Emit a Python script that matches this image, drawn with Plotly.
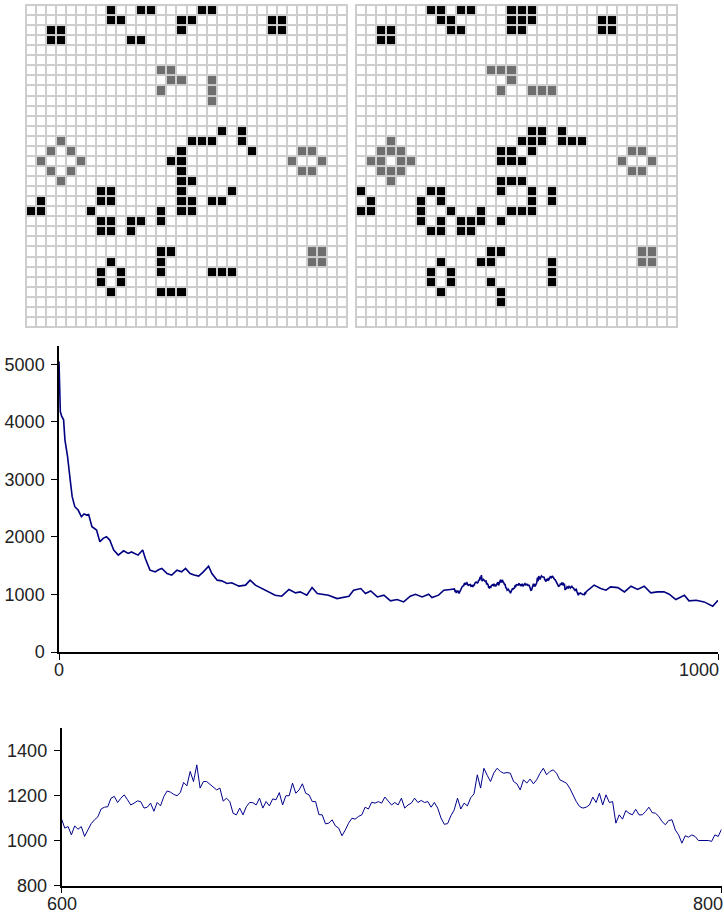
import plotly.graph_objects as go

W, H = 724, 915          # reference pixel frame used for all positions below
FIG_H = 925              # figure drawn slightly taller: the photo comes out ~1% squeezed vertically
N = 32

# ---------------- Board data: (row, col) ----------------
left_black = [
    (0, 8), (0, 11), (0, 12), (0, 17), (0, 18),
    (1, 8), (1, 9), (1, 15), (1, 16), (1, 24), (1, 25),
    (2, 2), (2, 3), (2, 15), (2, 24), (2, 25),
    (3, 2), (3, 3), (3, 10), (3, 11),
    (12, 19), (12, 21),
    (13, 16), (13, 17), (13, 18), (13, 21),
    (14, 15), (14, 22),
    (15, 14), (15, 15),
    (16, 15),
    (17, 15), (17, 16),
    (18, 7), (18, 8), (18, 15), (18, 20),
    (19, 1), (19, 7), (19, 8), (19, 15), (19, 16), (19, 18), (19, 19),
    (20, 0), (20, 1), (20, 6), (20, 13), (20, 15), (20, 16),
    (21, 7), (21, 8), (21, 10), (21, 11), (21, 13),
    (22, 7), (22, 8), (22, 10),
    (24, 13), (24, 14),
    (25, 8), (25, 13),
    (26, 7), (26, 9), (26, 13), (26, 18), (26, 19), (26, 20),
    (27, 7), (27, 9),
    (28, 8), (28, 13), (28, 14), (28, 15),
]
left_gray = [
    (6, 13), (6, 14),
    (7, 14), (7, 15), (7, 18),
    (8, 13), (8, 18),
    (9, 18),
    (13, 3),
    (14, 2), (14, 4), (14, 27), (14, 28),
    (15, 1), (15, 5), (15, 26), (15, 29),
    (16, 2), (16, 4), (16, 27), (16, 28),
    (17, 3),
    (24, 28), (24, 29),
    (25, 28), (25, 29),
]
right_black = [
    (0, 7), (0, 8), (0, 10), (0, 11), (0, 15), (0, 16), (0, 17),
    (1, 8), (1, 9), (1, 15), (1, 16), (1, 17), (1, 24), (1, 25),
    (2, 2), (2, 3), (2, 9), (2, 10), (2, 15), (2, 16), (2, 24), (2, 25),
    (3, 2), (3, 3),
    (12, 17), (12, 18), (12, 20),
    (13, 16), (13, 17), (13, 18), (13, 20), (13, 21), (13, 22),
    (14, 14), (14, 15), (14, 17),
    (15, 14), (15, 15), (15, 16),
    (17, 14), (17, 15), (17, 16),
    (18, 0), (18, 7), (18, 8), (18, 14), (18, 17), (18, 19),
    (19, 1), (19, 6), (19, 8), (19, 17), (19, 19),
    (20, 0), (20, 1), (20, 6), (20, 9), (20, 12), (20, 15), (20, 16), (20, 17),
    (21, 6), (21, 8), (21, 10), (21, 11), (21, 12), (21, 14),
    (22, 7), (22, 8), (22, 10), (22, 11),
    (24, 13), (24, 14),
    (25, 8), (25, 12), (25, 13), (25, 19),
    (26, 7), (26, 9), (26, 19),
    (27, 7), (27, 9), (27, 13), (27, 19),
    (28, 8), (28, 14),
    (29, 14),
]
right_gray = [
    (6, 13), (6, 14), (6, 15),
    (7, 15),
    (8, 14), (8, 17), (8, 18), (8, 19),
    (13, 3),
    (14, 2), (14, 3), (14, 4), (14, 27), (14, 28),
    (15, 1), (15, 2), (15, 4), (15, 5), (15, 26), (15, 29),
    (16, 2), (16, 3), (16, 4), (16, 27), (16, 28),
    (17, 3),
    (24, 28), (24, 29),
    (25, 28), (25, 29),
]

# ---------------- Population series ----------------
steps_early = [0, 1, 2, 4, 7, 9, 13, 17, 20, 24, 29, 34, 38, 42, 45, 50, 57, 62, 67, 72,
               77, 83, 90, 98, 105, 110, 115, 120, 127, 131, 138, 146, 151, 156, 164, 171, 179, 186, 192, 199,
               205, 212, 219, 227, 232, 240, 247, 255, 262, 273, 283, 290, 298, 308, 318, 328, 338, 349, 359, 366,
               376, 384, 392, 399, 409, 422, 430, 440, 447, 458, 465, 473, 483, 493, 503, 513, 523, 533, 541, 551,
               561, 566, 576, 584, 594]
pop_early = [5052, 4703, 4181, 4100, 4036, 3688, 3397, 2991, 2700, 2526, 2468, 2352, 2400, 2381, 2392, 2178, 2120, 1916, 1975, 2004,
             1946, 1772, 1684, 1760, 1713, 1740, 1713, 1684, 1772, 1626, 1423, 1394, 1430, 1452, 1365, 1336, 1423, 1394, 1452, 1365,
             1340, 1319, 1394, 1493, 1365, 1249, 1237, 1191, 1203, 1145, 1162, 1249, 1162, 1104, 1045, 988, 970, 1087, 1028, 1045,
             988, 1120, 1016, 1004, 988, 929, 947, 970, 1074, 1103, 1016, 1062, 958, 988, 889, 912, 871, 970, 1004, 958,
             1004, 947, 988, 1074, 1087]

detail_start = 600
pop_detail = [
    1096, 1055, 1062, 1025, 1065, 1050, 1062, 1018, 1047, 1075,
    1092, 1105, 1140, 1148, 1150, 1188, 1196, 1169, 1188, 1203,
    1181, 1158, 1166, 1176, 1173, 1144, 1148, 1166, 1130, 1169,
    1154, 1195, 1220, 1215, 1205, 1199, 1213, 1258, 1243, 1307,
    1262, 1336, 1233, 1262, 1262, 1250, 1240, 1225, 1233, 1175,
    1188, 1173, 1121, 1114, 1144, 1114, 1150, 1169, 1168, 1158,
    1188, 1144, 1173, 1154, 1185, 1181, 1213, 1158, 1199, 1199,
    1255, 1210, 1225, 1252, 1210, 1203, 1173, 1173, 1115, 1114,
    1074, 1077, 1092, 1065, 1055, 1021, 1047, 1077, 1099, 1095,
    1107, 1114, 1148, 1140, 1170, 1166, 1173, 1166, 1193, 1173,
    1158, 1169, 1158, 1188, 1144, 1158, 1166, 1188, 1169, 1178,
    1169, 1173, 1148, 1169, 1144, 1100, 1072, 1075, 1110, 1136,
    1188, 1140, 1166, 1154, 1190, 1207, 1292, 1233, 1321, 1290,
    1262, 1300, 1321, 1307, 1299, 1302, 1299, 1262, 1252, 1225,
    1270, 1255, 1273, 1252, 1270, 1299, 1321, 1292, 1307, 1314,
    1299, 1270, 1262, 1255, 1233, 1203, 1173, 1151, 1144, 1148,
    1158, 1193, 1169, 1210, 1158, 1203, 1169, 1173, 1077, 1114,
    1095, 1133, 1121, 1114, 1139, 1114, 1114, 1129, 1148, 1124,
    1121, 1107, 1084, 1070, 1089, 1092, 1047, 1025, 988, 1021,
    1015, 1025, 1018, 1000, 1000, 1000, 1000, 996, 1025, 1018,
    1050,
]
steps_detail = list(range(detail_start, detail_start + len(pop_detail)))

steps_late = [812, 822, 830, 837, 848, 858, 868, 878, 888, 898, 908, 918, 926, 936, 949, 956, 967, 979, 992, 1000]
pop_late = [1162, 1103, 1074, 1133, 1120, 1045, 1143, 1087, 1143, 1028, 1045, 1045, 1004, 912, 988, 889, 900, 871, 796, 900]

main_y_ticks = [0, 1000, 2000, 3000, 4000, 5000]
detail_y_ticks = [800, 1000, 1200, 1400]

# ---------------- Helpers (reference pixel coords -> paper fractions) ----------------
def xd(a, b):
    return [a / W, b / W]

def yd(top, bottom):
    return [1 - bottom / H, 1 - top / H]

def board(black, gray):
    z = [[0] * N for _ in range(N)]
    for r, c in gray:
        z[r][c] = 1
    for r, c in black:
        z[r][c] = 2
    return z

cscale = [[0, "#ffffff"], [0.25, "#ffffff"], [0.25, "#6e6e6e"], [0.75, "#6e6e6e"],
          [0.75, "#000000"], [1, "#000000"]]

fig = go.Figure()
for i, (blk, gry) in enumerate([(left_black, left_gray), (right_black, right_gray)]):
    sfx = "" if i == 0 else "2"
    fig.add_trace(go.Heatmap(
        z=board(blk, gry), x=list(range(N)), y=list(range(N)),
        zmin=0, zmax=2, colorscale=cscale, showscale=False,
        xgap=2, ygap=2, hoverinfo="skip",
        xaxis="x" + sfx, yaxis="y" + sfx,
    ))

main_x = steps_early + steps_detail + steps_late
main_y = pop_early + pop_detail + pop_late
fig.add_trace(go.Scatter(x=main_x, y=main_y, mode="lines",
                         line=dict(color="#000080", width=1.6),
                         xaxis="x3", yaxis="y3", hoverinfo="skip"))
fig.add_trace(go.Scatter(x=steps_detail, y=pop_detail, mode="lines",
                         line=dict(color="#00008b", width=1),
                         xaxis="x4", yaxis="y4", hoverinfo="skip"))

grid_axis = dict(showgrid=False, zeroline=False, showticklabels=False, ticks="",
                 fixedrange=True, showline=False)
FONT = "Liberation Sans, Arial, sans-serif"
tickfont = dict(family=FONT, size=18, color="#222222")

def line_axes(xdom, ydom, xr, yr, yt, xt, xa, ya):
    return {
        xa: dict(domain=xdom, range=xr, anchor=ya.replace("axis", ""),
                 showline=True, linecolor="#000000", linewidth=1.5,
                 ticks="outside", ticklen=6, tickcolor="#000000", tickwidth=1,
                 tickvals=xt, showticklabels=False, showgrid=False, zeroline=False),
        ya: dict(domain=ydom, range=yr, anchor=xa.replace("axis", ""),
                 showline=True, linecolor="#000000", linewidth=1.5,
                 ticks="outside", ticklen=6, tickcolor="#000000", tickwidth=1,
                 tickvals=yt, tickfont=tickfont, ticklabelstandoff=3,
                 showgrid=False, zeroline=False),
    }

layout = dict(
    width=W, height=FIG_H, margin=dict(l=0, r=0, t=0, b=0),
    paper_bgcolor="white", plot_bgcolor="white", showlegend=False,
    xaxis=dict(domain=xd(25, 348), range=[-0.6, N - 0.4], anchor="y", **grid_axis),
    yaxis=dict(domain=yd(4, 328), range=[N - 0.4, -0.6], anchor="x", **grid_axis),
    xaxis2=dict(domain=xd(355, 678), range=[-0.6, N - 0.4], anchor="y2", **grid_axis),
    yaxis2=dict(domain=yd(4, 328), range=[N - 0.4, -0.6], anchor="x2", **grid_axis),
)
layout.update(line_axes(xd(59, 718), yd(346, 652), [0, 1000], [0, 5320],
                        main_y_ticks, [0, 1000], "xaxis3", "yaxis3"))
layout.update(line_axes(xd(61.5, 721.5), yd(728, 885.5), [600, 800], [800, 1500],
                        detail_y_ticks, [600, 800], "xaxis4", "yaxis4"))

shapes = []
for xr_, yr_ in [("x", "y"), ("x2", "y2")]:
    shapes.append(dict(type="rect", xref=xr_ + " domain", yref=yr_ + " domain",
                       x0=0, x1=1, y0=0, y1=1, fillcolor="#cdcdcd",
                       line=dict(width=0), layer="below"))
layout["shapes"] = shapes

ann_font = dict(family=FONT, size=18, color="#222222")
annotations = []
for xa, ya, val, anchor in [("x3", "y3", 0, "center"), ("x3", "y3", 1000, "right"),
                            ("x4", "y4", 600, "center"), ("x4", "y4", 800, "right")]:
    annotations.append(dict(text=str(val), x=val, xref=xa, y=0, yref=ya + " domain",
                            xanchor=anchor, yanchor="top", yshift=-6, showarrow=False,
                            font=ann_font, xshift=(3 if anchor == "right" else 0)))
layout["annotations"] = annotations

fig.update_layout(**layout)

post = "document.body.style.margin='0';"
fig.write_html("out.html", post_script=post, config={"displayModeBar": False})
